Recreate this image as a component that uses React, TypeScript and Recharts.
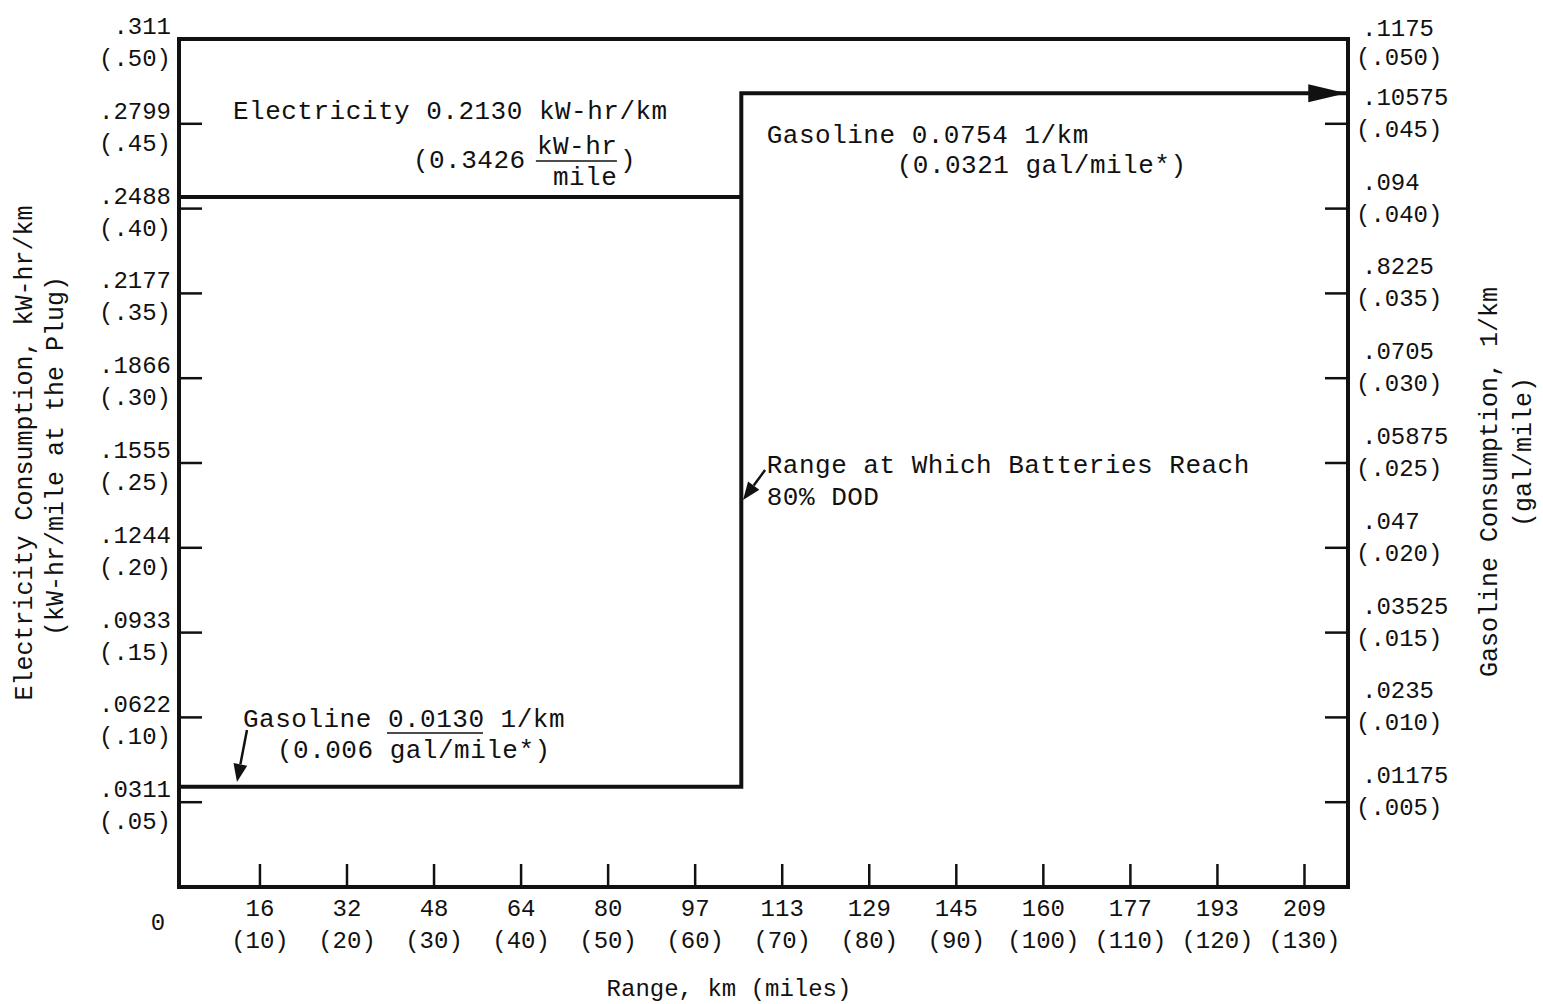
import React from "react";
import { LineChart, Line, XAxis, YAxis, ReferenceArea, ReferenceDot } from "recharts";

document.body.style.margin = "0";

const FONT = '"Liberation Mono", "DejaVu Sans Mono", monospace';
const INK = "#111";

// ── Range axis (miles on the scale, km printed above) ───────────────────────
const milesTicks = [10, 20, 30, 40, 50, 60, 70, 80, 90, 100, 110, 120, 130];
const kmLabels = ["16", "32", "48", "64", "80", "97", "113", "129", "145", "160", "177", "193", "209"];

// ── Left axis: electricity, kW-hr/km (kW-hr/mile) ───────────────────────────
const elecTicks = [0.0311, 0.0622, 0.0933, 0.1244, 0.1555, 0.1866, 0.2177, 0.2488, 0.2799, 0.311];
const elecKmLabels = [".0311", ".0622", ".0933", ".1244", ".1555", ".1866", ".2177", ".2488", ".2799", ".311"];
const elecMileLabels = ["(.05)", "(.10)", "(.15)", "(.20)", "(.25)", "(.30)", "(.35)", "(.40)", "(.45)", "(.50)"];

// ── Right axis: gasoline, l/km (gal/mile) ───────────────────────────────────
const gasTicks = [0.01175, 0.0235, 0.03525, 0.047, 0.05875, 0.0705, 0.08225, 0.094, 0.10575, 0.1175];
const gasKmLabels = [".01175", ".0235", ".03525", ".047", ".05875", ".0705", ".8225", ".094", ".10575", ".1175"];
const gasMileLabels = ["(.005)", "(.010)", "(.015)", "(.020)", "(.025)", "(.030)", "(.035)", "(.040)", "(.045)", "(.050)"];

// ── Series ───────────────────────────────────────────────────────────────────
const elecMiles = [0.7, 65.3];
const elecValues = [0.2531, 0.2531];
const gasMiles = [0.7, 65.3, 65.3, 134.8];
const gasValues = [0.0139, 0.0139, 0.11, 0.11];

const elecData = elecMiles.map((m, i) => ({ m, v: elecValues[i] }));
const gasData = gasMiles.map((m, i) => ({ m, v: gasValues[i] }));

const X_MIN = 0.7;
const X_MAX = 135;

const NOTE_SIZE = 26;
const NOTE_SPACING = 0.5;

function BottomTick(props: any) {
  const { x, y, payload } = props;
  if (payload.value < 1) {
    return (
      <text x={x - 21} y={y + 43} fontFamily={FONT} fontSize={24} fill={INK} textAnchor="middle">
        0
      </text>
    );
  }
  const i = milesTicks.indexOf(payload.value);
  return (
    <g>
      <line x1={x} y1={y} x2={x} y2={y - 23} stroke={INK} strokeWidth={2.5} />
      <text x={x} y={y + 29} fontFamily={FONT} fontSize={24} fill={INK} textAnchor="middle">
        {kmLabels[i]}
      </text>
      <text x={x} y={y + 61} fontFamily={FONT} fontSize={24} fill={INK} textAnchor="middle">
        {`(${payload.value})`}
      </text>
    </g>
  );
}

function LeftTick(props: any) {
  const { x, y, index } = props;
  const top = index === elecTicks.length - 1;
  return (
    <g>
      {!top && <line x1={x} y1={y} x2={x + 23} y2={y} stroke={INK} strokeWidth={2.5} />}
      <text x={x - 8} y={y - 5} fontFamily={FONT} fontSize={24} fill={INK} textAnchor="end">
        {elecKmLabels[index]}
      </text>
      <text x={x - 8} y={y + 27} fontFamily={FONT} fontSize={24} fill={INK} textAnchor="end">
        {elecMileLabels[index]}
      </text>
    </g>
  );
}

function RightTick(props: any) {
  const { x, y, index } = props;
  const top = index === gasTicks.length - 1;
  const d1 = top ? -3 : -19;
  const d2 = top ? 26 : 13;
  return (
    <g>
      {!top && <line x1={x} y1={y} x2={x - 23} y2={y} stroke={INK} strokeWidth={2.5} />}
      <text x={x + 14} y={y + d1} fontFamily={FONT} fontSize={24} fill={INK} textAnchor="start">
        {gasKmLabels[index]}
      </text>
      <text x={x + 8} y={y + d2} fontFamily={FONT} fontSize={24} fill={INK} textAnchor="start">
        {gasMileLabels[index]}
      </text>
    </g>
  );
}

function VText({ x, y, children }: any) {
  return (
    <text
      x={x}
      y={y}
      transform={`rotate(-90, ${x}, ${y})`}
      fontFamily={FONT}
      fontSize={25}
      fill={INK}
      textAnchor="middle"
      dominantBaseline="central"
    >
      {children}
    </text>
  );
}

function LeftTitle(props: any) {
  const vb = props.viewBox || { x: 0, y: 39, width: 179, height: 848 };
  const cy = vb.y + 414;
  return (
    <g>
      <VText x={vb.x + 25} y={cy}>Electricity Consumption, kW-hr/km</VText>
      <VText x={vb.x + 56} y={cy + 3}>(kW-hr/mile at the Plug)</VText>
    </g>
  );
}

function RightTitle(props: any) {
  const vb = props.viewBox || { x: 1348, y: 39, width: 195, height: 848 };
  return (
    <g>
      <VText x={vb.x + 142} y={vb.y + 443}>Gasoline Consumption, 1/km</VText>
      <VText x={vb.x + 176} y={vb.y + 413}>(gal/mile)</VText>
    </g>
  );
}

function BottomTitle(props: any) {
  const vb = props.viewBox || { x: 179, y: 887, width: 1169, height: 117 };
  return (
    <text x={vb.x + 550} y={vb.y + 109} fontFamily={FONT} fontSize={24} fill={INK} textAnchor="middle">
      Range, km (miles)
    </text>
  );
}

const txt = (s: string) => (p: any) => (
  <text
    x={p.cx}
    y={p.cy}
    fontFamily={FONT}
    fontSize={NOTE_SIZE}
    letterSpacing={NOTE_SPACING}
    fill={INK}
    textAnchor="start"
  >
    {s}
  </text>
);

const elecPerMile = (p: any) => (
  <g fontFamily={FONT} fontSize={NOTE_SIZE} letterSpacing={NOTE_SPACING} fill={INK}>
    <text x={p.cx} y={p.cy}>(0.3426</text>
    <text x={p.cx + 124} y={p.cy - 14}>kW-hr</text>
    <line x1={p.cx + 123} y1={p.cy - 7} x2={p.cx + 204} y2={p.cy - 7} stroke={INK} strokeWidth={1.5} />
    <text x={p.cx + 140} y={p.cy + 17}>mile</text>
    <text x={p.cx + 207} y={p.cy}>)</text>
  </g>
);

const lowGas = (p: any) => (
  <g fontFamily={FONT} fontSize={NOTE_SIZE} letterSpacing={NOTE_SPACING} fill={INK}>
    <text x={p.cx} y={p.cy}>Gasoline 0.0130 1/km</text>
    <line x1={p.cx + 144} y1={p.cy + 6} x2={p.cx + 240} y2={p.cy + 6} stroke={INK} strokeWidth={1.5} />
  </g>
);

const arrow = (dx: number, dy: number) => (p: any) => {
  const tx = p.cx;
  const ty = p.cy;
  const len = Math.hypot(dx, dy);
  const ux = -dx / len;
  const uy = -dy / len;
  const hl = 18;
  const hw = 7;
  const bx = tx - ux * hl;
  const by = ty - uy * hl;
  return (
    <g>
      <line x1={tx + dx} y1={ty + dy} x2={bx} y2={by} stroke={INK} strokeWidth={2.5} />
      <polygon
        points={`${tx},${ty} ${bx - uy * hw},${by + ux * hw} ${bx + uy * hw},${by - ux * hw}`}
        fill={INK}
      />
    </g>
  );
};

const arrowEnd = (props: any) => {
  const { cx, cy, index } = props;
  if (index !== gasData.length - 1) return <g key={`d${index}`} />;
  return (
    <polygon
      key={`d${index}`}
      points={`${cx},${cy} ${cx - 38},${cy - 9} ${cx - 38},${cy + 9}`}
      fill={INK}
    />
  );
};

export default function App() {
  return (
    <div style={{ background: "#fff", width: 1543, height: 1004 }}>
      <LineChart width={1543} height={1004} margin={{ top: 39, right: 0, bottom: 0, left: 0 }}>
        <XAxis
          type="number"
          dataKey="m"
          domain={[X_MIN, X_MAX]}
          ticks={[X_MIN, ...milesTicks]}
          allowDataOverflow
          height={117}
          axisLine={false}
          tickLine={false}
          tickSize={0}
          tickMargin={0}
          interval={0}
          tick={<BottomTick />}
          label={<BottomTitle />}
        />
        <YAxis
          yAxisId="elec"
          type="number"
          domain={[0, 0.311]}
          ticks={elecTicks}
          allowDataOverflow
          width={179}
          axisLine={false}
          tickLine={false}
          tickSize={0}
          tickMargin={0}
          interval={0}
          tick={<LeftTick />}
          label={<LeftTitle />}
        />
        <YAxis
          yAxisId="gas"
          orientation="right"
          type="number"
          domain={[0, 0.1175]}
          ticks={gasTicks}
          allowDataOverflow
          width={195}
          axisLine={false}
          tickLine={false}
          tickSize={0}
          tickMargin={0}
          interval={0}
          tick={<RightTick />}
          label={<RightTitle />}
        />
        <ReferenceArea
          yAxisId="elec"
          x1={X_MIN}
          x2={X_MAX}
          y1={0}
          y2={0.311}
          fill="none"
          stroke={INK}
          strokeWidth={4}
          ifOverflow="visible"
        />
        <Line
          yAxisId="elec"
          data={elecData}
          dataKey="v"
          type="linear"
          stroke={INK}
          strokeWidth={4}
          dot={false}
          isAnimationActive={false}
        />
        <Line
          yAxisId="gas"
          data={gasData}
          dataKey="v"
          type="linear"
          stroke={INK}
          strokeWidth={4}
          strokeLinejoin="miter"
          dot={arrowEnd}
          activeDot={false}
          isAnimationActive={false}
        />
        <ReferenceDot yAxisId="elec" x={6.9} y={0.2816} ifOverflow="visible" shape={txt("Electricity 0.2130 kW-hr/km")} />
        <ReferenceDot yAxisId="elec" x={27.57} y={0.2637} ifOverflow="visible" shape={elecPerMile} />
        <ReferenceDot yAxisId="elec" x={68.22} y={0.2728} ifOverflow="visible" shape={txt("Gasoline 0.0754 1/km")} />
        <ReferenceDot yAxisId="elec" x={83.15} y={0.2618} ifOverflow="visible" shape={txt("(0.0321 gal/mile*)")} />
        <ReferenceDot yAxisId="elec" x={68.22} y={0.1518} ifOverflow="visible" shape={txt("Range at Which Batteries Reach")} />
        <ReferenceDot yAxisId="elec" x={68.22} y={0.1401} ifOverflow="visible" shape={txt("80% DOD")} />
        <ReferenceDot yAxisId="elec" x={8.05} y={0.0587} ifOverflow="visible" shape={lowGas} />
        <ReferenceDot yAxisId="elec" x={11.95} y={0.0473} ifOverflow="visible" shape={txt("(0.006 gal/mile*)")} />
        <ReferenceDot yAxisId="elec" x={7.36} y={0.0385} ifOverflow="visible" shape={arrow(10, -52)} />
        <ReferenceDot yAxisId="elec" x={65.5} y={0.1419} ifOverflow="visible" shape={arrow(22, -30)} />
      </LineChart>
    </div>
  );
}
